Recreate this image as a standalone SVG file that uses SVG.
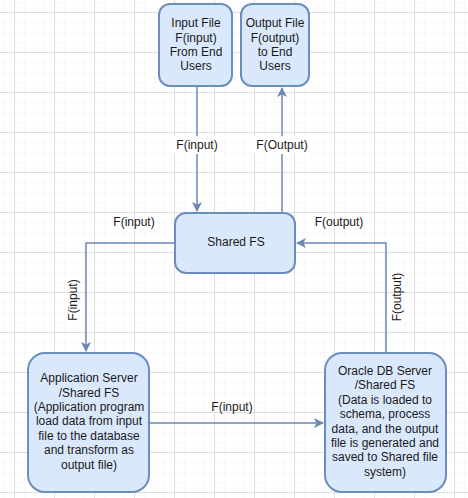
<svg xmlns="http://www.w3.org/2000/svg" width="468" height="498" viewBox="0 0 468 498">
<defs>
<pattern id="minor" x="4" y="2" width="10" height="10" patternUnits="userSpaceOnUse">
<path d="M0 0H10M0 0V10" fill="none" stroke="#f3f3f3" stroke-width="1"/>
</pattern>
<pattern id="major" x="14" y="12" width="40" height="40" patternUnits="userSpaceOnUse">
<path d="M0 0.5H40M0.5 0V40" fill="none" stroke="#dedede" stroke-width="1"/>
</pattern>
<marker id="arr" viewBox="0 0 10 10" refX="9" refY="5" markerWidth="10" markerHeight="10" markerUnits="userSpaceOnUse" orient="auto">
<path d="M0 0L10 5L0 10L2.5 5Z" fill="#6d88b0"/>
</marker>
<style>
.box{fill:#dae8fc;stroke:#6c8ebf;stroke-width:2}
.t{font-family:"Liberation Sans",Arial,sans-serif;font-size:12px;fill:#1a1a1a;text-anchor:middle}
.c{fill:none;stroke:#6d88b0;stroke-width:1.5}
</style>
</defs>
<rect width="468" height="498" fill="#ffffff"/>
<rect width="468" height="498" fill="url(#minor)"/>
<rect width="468" height="498" fill="url(#major)"/>
<g id="connectors">
<path class="c" d="M197 87V211" marker-end="url(#arr)"/>
<path class="c" d="M282 212V88" marker-end="url(#arr)"/>
<path class="c" d="M174 243H86V351" marker-end="url(#arr)"/>
<path class="c" d="M386 352V243H297" marker-end="url(#arr)"/>
<path class="c" d="M150 423H323" marker-end="url(#arr)"/>
<rect x="170" y="136" width="54" height="18" fill="#ffffff"/>
<rect x="253" y="136" width="58" height="18" fill="#ffffff"/>
<text class="t" x="197" y="149">F(input)</text>
<text class="t" x="282" y="149">F(Output)</text>
<text class="t" x="134" y="226">F(input)</text>
<text class="t" x="339" y="226">F(output)</text>
<text class="t" x="232" y="411">F(input)</text>
<text class="t" transform="translate(77 300) rotate(-90)">F(input)</text>
<text class="t" transform="translate(401 297) rotate(-90)">F(output)</text>
</g>
<g id="input-file">
<rect class="box" x="159" y="4" width="73" height="82" rx="11"/>
<text class="t" x="196" y="27">Input File</text>
<text class="t" x="196" y="42">F(input)</text>
<text class="t" x="196" y="56">From End</text>
<text class="t" x="196" y="70">Users</text>
</g>
<g id="output-file">
<rect class="box" x="241" y="4" width="68" height="82" rx="11"/>
<text class="t" x="275" y="27">Output File</text>
<text class="t" x="275" y="42">F(output)</text>
<text class="t" x="275" y="56">to End</text>
<text class="t" x="275" y="70">Users</text>
</g>
<g id="shared-fs">
<rect class="box" x="175" y="213" width="120" height="60" rx="11"/>
<text class="t" x="236" y="246">Shared FS</text>
</g>
<g id="app-server">
<rect class="box" x="28" y="353" width="121" height="139" rx="17"/>
<text class="t" x="89" y="382">Application Server</text>
<text class="t" x="89" y="397">/Shared FS</text>
<text class="t" x="89" y="411">(Application program</text>
<text class="t" x="89" y="425">load data from input</text>
<text class="t" x="89" y="440">file to the database</text>
<text class="t" x="89" y="454">and transform as</text>
<text class="t" x="89" y="469">output file)</text>
</g>
<g id="oracle-db">
<rect class="box" x="325" y="353" width="121" height="139" rx="17"/>
<text class="t" x="385" y="375">Oracle DB Server</text>
<text class="t" x="385" y="389">/Shared FS</text>
<text class="t" x="385" y="404">(Data is loaded to</text>
<text class="t" x="385" y="418">schema, process</text>
<text class="t" x="385" y="433">data, and the output</text>
<text class="t" x="385" y="447">file is generated and</text>
<text class="t" x="385" y="461">saved to Shared file</text>
<text class="t" x="385" y="476">system)</text>
</g>
</svg>
